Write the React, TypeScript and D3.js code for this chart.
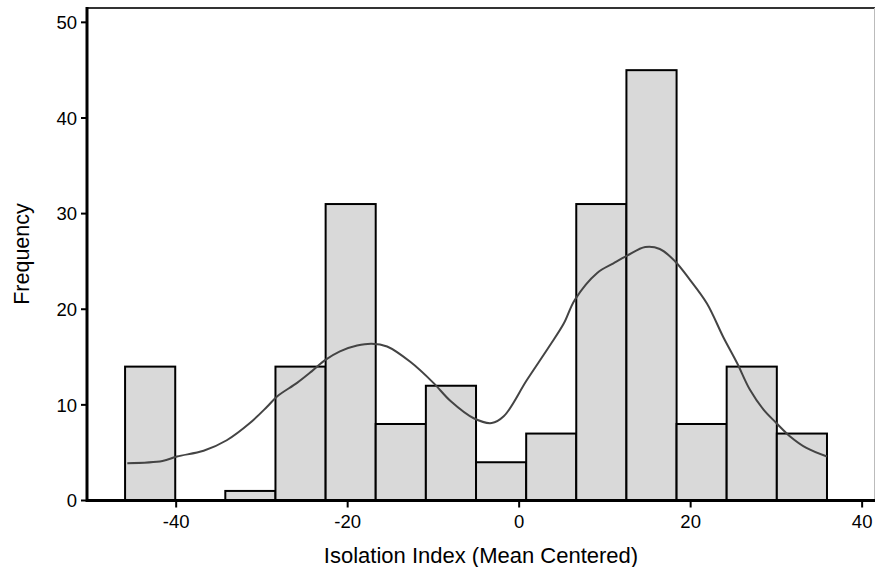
import React from "react";
import * as d3 from "d3";

const binEdges = [-45.96, -40.11, -34.27, -28.42, -22.57, -16.73, -10.88, -5.03, 0.82, 6.66, 12.51, 18.36, 24.2, 30.05, 35.9];
const binCounts = [14, 0, 1, 14, 31, 8, 12, 4, 7, 31, 45, 8, 14, 7];
const xTicks = [-40, -20, 0, 20, 40];
const yTicks = [0, 10, 20, 30, 40, 50];
const densityX = [-45.7, -41.6, -39.9, -36.8, -34.1, -31.4, -29.4, -28.2, -25.9, -24.2, -22.6, -20.9, -18.9, -17.2, -15.4, -12.7, -10.0, -8.0, -5.3, -3.2, -1.8, 0.9, 3.5, 5.2, 6.5, 9.1, 11.0, 12.6, 14.7, 16.4, 18.2, 19.9, 21.9, 23.8, 25.4, 26.9, 28.5, 30.0, 31.6, 33.5, 35.9];
const densityY = [3.9, 4.13, 4.6, 5.2, 6.3, 8.1, 9.8, 10.9, 12.3, 13.5, 14.7, 15.6, 16.2, 16.4, 16.1, 14.5, 12.3, 10.4, 8.6, 8.1, 8.8, 12.6, 16.1, 18.5, 21.0, 23.8, 24.8, 25.6, 26.5, 26.3, 25.0, 23.1, 20.6, 17.1, 14.4, 11.6, 9.5, 8.1, 6.7, 5.5, 4.6];
const xLabel = "Isolation Index (Mean Centered)";
const yLabel = "Frequency";

export default function App() {
  const W = 875, H = 567;
  const left = 87, right = 875, top = 8, bottom = 500.5;
  const x = d3.scaleLinear().domain([-50.4, 41.5]).range([left, right]);
  const y = d3.scaleLinear().domain([0, 51.5]).range([bottom, top]);
  const line = d3
    .line<number>()
    .x((_, i) => x(densityX[i]))
    .y((d) => y(d))
    .curve(d3.curveCatmullRom.alpha(0.5));
  const font = "'Liberation Sans', Arial, Helvetica, sans-serif";
  return (
    <svg width={W} height={H} style={{ position: "absolute", left: 0, top: 0, background: "#fff" }}>
      {/* frame */}
      <line x1={left} x2={right} y1={top} y2={top} stroke="#333" strokeWidth={2} />
      <line x1={right - 0.5} x2={right - 0.5} y1={top} y2={bottom} stroke="#bbb" strokeWidth={1} />
      {/* bars */}
      {binCounts.map((c, i) =>
        c > 0 ? (
          <rect
            key={i}
            x={x(binEdges[i])}
            y={y(c)}
            width={x(binEdges[i + 1]) - x(binEdges[i])}
            height={bottom - y(c)}
            fill="#d9d9d9"
            stroke="#000"
            strokeWidth={2}
          />
        ) : null
      )}
      {/* density */}
      <path d={line(densityY) || ""} fill="none" stroke="#444" strokeWidth={2} />
      {/* axes */}
      <line x1={left} x2={right} y1={bottom} y2={bottom} stroke="#000" strokeWidth={3} />
      <line x1={left} x2={left} y1={top - 1} y2={bottom + 1.5} stroke="#000" strokeWidth={3} />
      {yTicks.map((t) => (
        <g key={t}>
          <line x1={left - 6} x2={left} y1={y(t)} y2={y(t)} stroke="#000" strokeWidth={2} />
          <text x={left - 10} y={y(t)} dy="0.36em" textAnchor="end" fontFamily={font} fontSize={18.5} fill="#000">
            {t}
          </text>
        </g>
      ))}
      {xTicks.map((t) => (
        <g key={t}>
          <line x1={x(t)} x2={x(t)} y1={bottom} y2={bottom + 7} stroke="#000" strokeWidth={2} />
          <text x={x(t)} y={528} textAnchor="middle" fontFamily={font} fontSize={18.5} fill="#000">
            {t}
          </text>
        </g>
      ))}
      <text x={(left + right) / 2} y={563} textAnchor="middle" fontFamily={font} fontSize={22} fill="#000">
        {xLabel}
      </text>
      <text
        transform={`translate(29, ${(203 + 305) / 2}) rotate(-90)`}
        textAnchor="middle"
        fontFamily={font}
        fontSize={21.5}
        fill="#000"
      >
        {yLabel}
      </text>
    </svg>
  );
}
